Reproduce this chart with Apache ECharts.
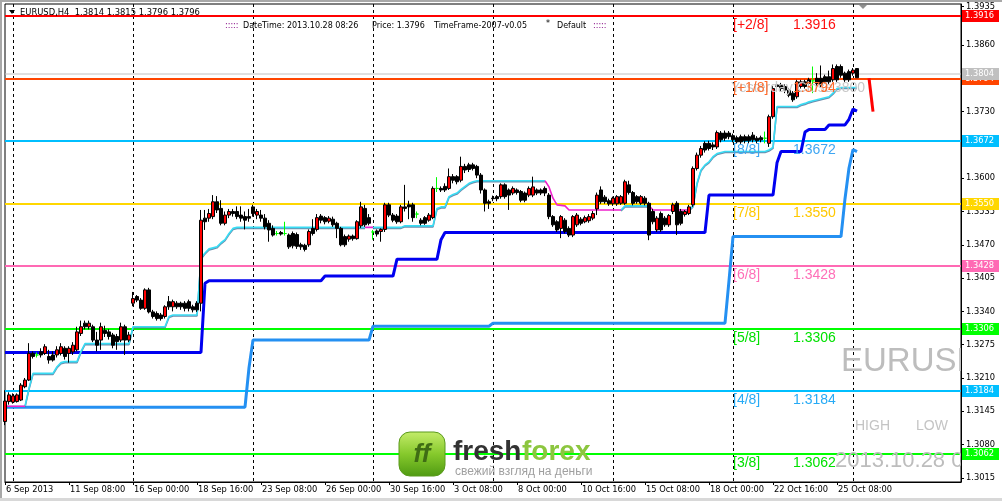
<!DOCTYPE html>
<html><head><meta charset="utf-8">
<script src="https://cdn.jsdelivr.net/npm/echarts@6/dist/echarts.min.js"></script>
<style>html,body{margin:0;padding:0;background:#fff}#c{width:1002px;height:501px}</style>
</head><body><div id="c"></div><script>
const symbolName = 'EURUSD', timeframe = 'H4';
const startTime = '2013-09-06T16:00:00Z';
const totalSlots = 240;
const headerDateTime = '2013.10.28 08:26';
const indicatorName = 'TimeFrame-2007-v0.05';
const templateName = 'Default';
const yMin = 1.3007, yMax = 1.3940;
const yTicks = [1.3015,1.3080,1.3145,1.3210,1.3275,1.3340,1.3405,1.3470,1.3535,1.3600,1.3665,1.3730,1.3795,1.3860,1.3935];
// [open, close, low, high]
const candles = [
[1.3125,1.3165,1.3118,1.3186],[1.3164,1.3177,1.3158,1.3182],[1.3163,1.3175,1.3160,1.3180],[1.3164,1.3177,1.3162,1.3180],
[1.3167,1.3196,1.3165,1.3200],[1.3193,1.3206,1.3190,1.3210],[1.3206,1.3258,1.3204,1.3278],[1.3258,1.3252,1.3248,1.3262],
[1.3255,1.3255,1.3250,1.3260],[1.3261,1.3255,1.3250,1.3268],[1.3258,1.3271,1.3255,1.3276],[1.3252,1.3245,1.3238,1.3265],
[1.3255,1.3245,1.3242,1.3262],[1.3255,1.3265,1.3250,1.3272],[1.3258,1.3271,1.3254,1.3278],[1.3268,1.3252,1.3246,1.3272],
[1.3258,1.3268,1.3240,1.3272],[1.3261,1.3274,1.3255,1.3280],[1.3265,1.3300,1.3262,1.3310],[1.3297,1.3310,1.3292,1.3322],
[1.3317,1.3310,1.3305,1.3322],[1.3310,1.3317,1.3305,1.3322],[1.3310,1.3284,1.3280,1.3314],[1.3284,1.3274,1.3262,1.3300],
[1.3284,1.3310,1.3265,1.3318],[1.3303,1.3297,1.3290,1.3312],[1.3300,1.3291,1.3285,1.3305],[1.3294,1.3274,1.3268,1.3298],
[1.3291,1.3281,1.3265,1.3296],[1.3284,1.3310,1.3280,1.3318],[1.3310,1.3284,1.3255,1.3314],[1.3284,1.3294,1.3280,1.3300],
[1.3356,1.3365,1.3350,1.3378],[1.3369,1.3362,1.3358,1.3372],[1.3362,1.3346,1.3343,1.3366],[1.3346,1.3382,1.3343,1.3385],
[1.3382,1.3339,1.3336,1.3386],[1.3339,1.3330,1.3326,1.3343],[1.3336,1.3326,1.3322,1.3340],[1.3333,1.3326,1.3322,1.3337],
[1.3330,1.3349,1.3326,1.3352],[1.3359,1.3349,1.3343,1.3370],[1.3349,1.3359,1.3340,1.3363],[1.3356,1.3349,1.3345,1.3360],
[1.3356,1.3349,1.3343,1.3359],[1.3356,1.3346,1.3340,1.3360],[1.3359,1.3346,1.3340,1.3363],[1.3349,1.3343,1.3338,1.3353],
[1.3356,1.3343,1.3339,1.3360],[1.3356,1.3518,1.3340,1.3538],[1.3522,1.3515,1.3499,1.3538],[1.3522,1.3531,1.3515,1.3540],
[1.3525,1.3554,1.3520,1.3567],[1.3554,1.3538,1.3532,1.3565],[1.3541,1.3512,1.3508,1.3557],[1.3512,1.3528,1.3508,1.3535],
[1.3528,1.3535,1.3522,1.3540],[1.3535,1.3531,1.3525,1.3540],[1.3535,1.3525,1.3520,1.3545],[1.3528,1.3522,1.3515,1.3545],
[1.3525,1.3518,1.3500,1.3535],[1.3525,1.3522,1.3515,1.3540],[1.3544,1.3531,1.3525,1.3548],[1.3528,1.3535,1.3520,1.3540],
[1.3528,1.3522,1.3515,1.3538],[1.3522,1.3505,1.3500,1.3530],[1.3512,1.3499,1.3476,1.3518],[1.3502,1.3489,1.3486,1.3508],
[1.3492,1.3492,1.3488,1.3497],[1.3494,1.3491,1.3488,1.3497],[1.3492,1.3492,1.3488,1.3515],[1.3489,1.3466,1.3462,1.3492],
[1.3492,1.3468,1.3463,1.3496],[1.3490,1.3467,1.3462,1.3494],[1.3470,1.3466,1.3460,1.3474],[1.3469,1.3461,1.3457,1.3472],
[1.3470,1.3496,1.3466,1.3500],[1.3502,1.3492,1.3488,1.3520],[1.3500,1.3523,1.3496,1.3530],[1.3526,1.3518,1.3512,1.3530],
[1.3523,1.3515,1.3510,1.3526],[1.3516,1.3522,1.3512,1.3526],[1.3520,1.3509,1.3505,1.3525],[1.3512,1.3502,1.3483,1.3515],
[1.3502,1.3470,1.3467,1.3505],[1.3486,1.3470,1.3466,1.3490],[1.3481,1.3487,1.3476,1.3490],[1.3487,1.3482,1.3478,1.3490],
[1.3482,1.3515,1.3480,1.3518],[1.3507,1.3544,1.3503,1.3554],[1.3541,1.3509,1.3505,1.3548],[1.3523,1.3512,1.3508,1.3530],
[1.3495,1.3495,1.3480,1.3499],[1.3497,1.3491,1.3486,1.3500],[1.3496,1.3500,1.3476,1.3502],[1.3500,1.3548,1.3495,1.3552],
[1.3548,1.3528,1.3524,1.3552],[1.3528,1.3518,1.3514,1.3532],[1.3526,1.3515,1.3511,1.3530],[1.3515,1.3544,1.3512,1.3548],
[1.3544,1.3541,1.3535,1.3587],[1.3548,1.3544,1.3520,1.3556],[1.3548,1.3523,1.3515,1.3552],[1.3530,1.3530,1.3522,1.3535],
[1.3518,1.3512,1.3508,1.3522],[1.3523,1.3512,1.3509,1.3526],[1.3518,1.3528,1.3515,1.3532],[1.3523,1.3580,1.3520,1.3584],
[1.3580,1.3580,1.3573,1.3602],[1.3580,1.3577,1.3573,1.3584],[1.3584,1.3577,1.3573,1.3590],[1.3580,1.3603,1.3577,1.3619],
[1.3603,1.3596,1.3590,1.3608],[1.3603,1.3593,1.3588,1.3606],[1.3596,1.3623,1.3592,1.3642],[1.3623,1.3616,1.3610,1.3628],
[1.3626,1.3617,1.3612,1.3630],[1.3626,1.3619,1.3615,1.3630],[1.3623,1.3606,1.3600,1.3626],[1.3606,1.3577,1.3570,1.3610],
[1.3577,1.3551,1.3535,1.3580],[1.3554,1.3551,1.3540,1.3558],[1.3561,1.3560,1.3555,1.3566],[1.3564,1.3560,1.3555,1.3567],
[1.3564,1.3587,1.3560,1.3590],[1.3587,1.3564,1.3560,1.3590],[1.3577,1.3567,1.3538,1.3580],[1.3571,1.3580,1.3567,1.3584],
[1.3577,1.3572,1.3568,1.3580],[1.3574,1.3557,1.3553,1.3577],[1.3571,1.3557,1.3553,1.3574],[1.3567,1.3580,1.3563,1.3584],
[1.3567,1.3583,1.3563,1.3603],[1.3577,1.3571,1.3567,1.3580],[1.3577,1.3571,1.3567,1.3580],[1.3580,1.3571,1.3565,1.3584],
[1.3567,1.3525,1.3520,1.3571],[1.3525,1.3509,1.3505,1.3528],[1.3515,1.3499,1.3495,1.3518],[1.3502,1.3525,1.3483,1.3528],
[1.3518,1.3496,1.3492,1.3522],[1.3502,1.3489,1.3485,1.3506],[1.3489,1.3525,1.3485,1.3528],[1.3509,1.3528,1.3505,1.3532],
[1.3520,1.3512,1.3508,1.3524],[1.3515,1.3523,1.3512,1.3527],[1.3517,1.3525,1.3513,1.3530],[1.3522,1.3531,1.3518,1.3536],
[1.3540,1.3567,1.3528,1.3572],[1.3577,1.3554,1.3550,1.3584],[1.3563,1.3554,1.3550,1.3567],[1.3556,1.3550,1.3546,1.3560],
[1.3550,1.3561,1.3546,1.3564],[1.3550,1.3564,1.3546,1.3567],[1.3551,1.3564,1.3548,1.3567],[1.3551,1.3593,1.3548,1.3597],
[1.3587,1.3572,1.3568,1.3595],[1.3572,1.3551,1.3547,1.3575],[1.3564,1.3554,1.3550,1.3567],[1.3551,1.3564,1.3548,1.3567],
[1.3561,1.3551,1.3547,1.3565],[1.3551,1.3489,1.3479,1.3554],[1.3535,1.3515,1.3510,1.3540],[1.3499,1.3522,1.3495,1.3526],
[1.3531,1.3499,1.3495,1.3535],[1.3522,1.3509,1.3505,1.3526],[1.3509,1.3527,1.3505,1.3530],[1.3535,1.3548,1.3530,1.3552],
[1.3551,1.3509,1.3489,1.3555],[1.3535,1.3512,1.3508,1.3540],[1.3529,1.3535,1.3525,1.3538],[1.3531,1.3544,1.3528,1.3548],
[1.3548,1.3619,1.3544,1.3623],[1.3619,1.3645,1.3615,1.3650],[1.3645,1.3658,1.3640,1.3663],[1.3668,1.3655,1.3650,1.3672],
[1.3668,1.3658,1.3654,1.3673],[1.3665,1.3661,1.3655,1.3670],[1.3661,1.3689,1.3657,1.3693],[1.3688,1.3675,1.3670,1.3692],
[1.3688,1.3678,1.3673,1.3693],[1.3688,1.3681,1.3676,1.3692],[1.3683,1.3675,1.3670,1.3687],[1.3679,1.3671,1.3667,1.3683],
[1.3681,1.3671,1.3667,1.3685],[1.3681,1.3673,1.3668,1.3685],[1.3681,1.3673,1.3668,1.3685],[1.3684,1.3675,1.3670,1.3690],
[1.3678,1.3673,1.3668,1.3682],[1.3679,1.3675,1.3670,1.3683],[1.3678,1.3678,1.3668,1.3691],[1.3668,1.3720,1.3661,1.3724],
[1.3720,1.3775,1.3716,1.3780],[1.3782,1.3779,1.3772,1.3786],[1.3782,1.3775,1.3770,1.3786],[1.3779,1.3772,1.3766,1.3783],
[1.3772,1.3762,1.3758,1.3776],[1.3766,1.3753,1.3749,1.3770],[1.3759,1.3788,1.3755,1.3792],[1.3779,1.3788,1.3775,1.3792],
[1.3788,1.3779,1.3775,1.3792],[1.3792,1.3785,1.3780,1.3796],[1.3790,1.3790,1.3766,1.3818],[1.3795,1.3785,1.3780,1.3805],
[1.3795,1.3782,1.3778,1.3820],[1.3798,1.3788,1.3784,1.3802],[1.3798,1.3788,1.3784,1.3810],[1.3792,1.3814,1.3788,1.3822],
[1.3818,1.3792,1.3788,1.3822],[1.3818,1.3801,1.3796,1.3822],[1.3805,1.3792,1.3788,1.3808],[1.3808,1.3792,1.3788,1.3812],
[1.3805,1.3811,1.3800,1.3815],[1.3814,1.3796,1.3796,1.3815]
];
const blueLine = [
1.3260,1.3260,1.3260,1.3260,1.3260,1.3260,1.3260,1.3260,1.3260,1.3260,
1.3260,1.3260,1.3260,1.3260,1.3260,1.3260,1.3260,1.3260,1.3260,1.3260,
1.3260,1.3260,1.3260,1.3260,1.3260,1.3260,1.3260,1.3260,1.3260,1.3260,
1.3260,1.3260,1.3260,1.3260,1.3260,1.3260,1.3260,1.3260,1.3260,1.3260,
1.3260,1.3260,1.3260,1.3260,1.3260,1.3260,1.3260,1.3260,1.3260,1.3260,
1.3395,
1.3400,1.3400,1.3400,1.3400,1.3400,1.3400,1.3400,1.3400,1.3400,1.3400,
1.3400,1.3400,1.3400,1.3400,1.3400,1.3400,1.3400,1.3400,1.3400,1.3400,
1.3400,1.3400,1.3400,1.3400,1.3400,1.3400,1.3400,1.3400,1.3400,
1.3409,1.3409,1.3409,1.3409,1.3409,1.3409,1.3409,1.3409,1.3409,1.3409,
1.3409,1.3409,1.3409,1.3409,1.3409,1.3409,1.3409,1.3409,
1.3442,1.3442,1.3442,1.3442,1.3442,1.3442,1.3442,1.3442,1.3442,1.3442,1.3442,
1.3480,
1.3494,1.3494,1.3494,1.3494,1.3494,1.3494,1.3494,1.3494,1.3494,1.3494,
1.3494,1.3494,1.3494,1.3494,1.3494,1.3494,1.3494,1.3494,1.3494,1.3494,
1.3494,1.3494,1.3494,1.3494,1.3494,1.3494,1.3494,1.3494,1.3494,1.3494,
1.3494,1.3494,1.3494,1.3494,1.3494,1.3494,1.3494,1.3494,1.3494,1.3494,
1.3494,1.3494,1.3494,1.3494,1.3494,1.3494,1.3494,1.3494,1.3494,1.3494,
1.3494,1.3494,1.3494,1.3494,1.3494,1.3494,1.3494,1.3494,1.3494,1.3494,
1.3494,1.3494,1.3494,1.3494,1.3494,1.3494,
1.3567,1.3567,1.3567,1.3567,1.3567,1.3567,1.3567,1.3567,1.3567,1.3567,
1.3567,1.3567,1.3567,1.3567,1.3567,1.3567,1.3567,
1.3630,
1.3652,1.3652,1.3652,1.3652,1.3652,1.3652,
1.3690,
1.3695,1.3695,1.3695,1.3695,1.3695,
1.3704,1.3704,1.3704,1.3704,1.3704,
1.3715,1.3735,1.3731
];
const lightBlueLine = [
1.3153,1.3153,1.3153,1.3153,1.3153,1.3153,1.3153,1.3153,1.3153,1.3153,
1.3153,1.3153,1.3153,1.3153,1.3153,1.3153,1.3153,1.3153,1.3153,1.3153,
1.3153,1.3153,1.3153,1.3153,1.3153,1.3153,1.3153,1.3153,1.3153,1.3153,
1.3153,1.3153,1.3153,1.3153,1.3153,1.3153,1.3153,1.3153,1.3153,1.3153,
1.3153,1.3153,1.3153,1.3153,1.3153,1.3153,1.3153,1.3153,1.3153,1.3153,
1.3153,1.3153,1.3153,1.3153,1.3153,1.3153,1.3153,1.3153,1.3153,1.3153,1.3153,
1.3230,
1.3284,1.3284,1.3284,1.3284,1.3284,1.3284,1.3284,1.3284,1.3284,1.3284,
1.3284,1.3284,1.3284,1.3284,1.3284,1.3284,1.3284,1.3284,1.3284,1.3284,
1.3284,1.3284,1.3284,1.3284,1.3284,1.3284,1.3284,1.3284,1.3284,1.3284,
1.3311,1.3311,1.3311,1.3311,1.3311,1.3311,1.3311,1.3311,1.3311,1.3311,
1.3311,1.3311,1.3311,1.3311,1.3311,1.3311,1.3311,1.3311,1.3311,1.3311,
1.3311,1.3311,1.3311,1.3311,1.3311,1.3311,1.3311,1.3311,1.3311,1.3311,
1.3317,1.3317,1.3317,1.3317,1.3317,1.3317,1.3317,1.3317,1.3317,1.3317,
1.3317,1.3317,1.3317,1.3317,1.3317,1.3317,1.3317,1.3317,1.3317,1.3317,
1.3317,1.3317,1.3317,1.3317,1.3317,1.3317,1.3317,1.3317,1.3317,1.3317,
1.3317,1.3317,1.3317,1.3317,1.3317,1.3317,1.3317,1.3317,1.3317,1.3317,
1.3317,1.3317,1.3317,1.3317,1.3317,1.3317,1.3317,1.3317,1.3317,1.3317,
1.3317,1.3317,1.3317,1.3317,1.3317,1.3317,1.3317,1.3317,1.3317,
1.3400,
1.3486,1.3486,1.3486,1.3486,1.3486,1.3486,1.3486,1.3486,1.3486,1.3486,
1.3486,1.3486,1.3486,1.3486,1.3486,1.3486,1.3486,1.3486,1.3486,1.3486,
1.3486,1.3486,1.3486,1.3486,1.3486,1.3486,1.3486,1.3486,
1.3560,1.3620,1.3656,1.3652
];
const trail = [
1.3155,1.3155,1.3155,1.3155,1.3155,1.3155,1.3190,
1.3219,1.3219,1.3219,1.3219,1.3219,1.3219,1.3232,1.3240,
1.3242,1.3242,1.3242,1.3242,1.3262,
1.3277,1.3277,1.3277,1.3277,1.3277,1.3277,1.3277,1.3277,1.3277,1.3277,1.3277,1.3277,
1.3310,1.3310,1.3310,1.3310,1.3310,1.3310,1.3310,1.3310,1.3310,1.3330,
1.3333,1.3333,1.3333,1.3333,1.3333,1.3333,1.3333,
1.3444,1.3454,1.3462,1.3464,1.3466,1.3474,1.3480,1.3492,1.3502,
1.3504,1.3504,1.3504,1.3504,1.3504,1.3504,1.3504,1.3504,1.3504,1.3504,
1.3504,1.3504,1.3504,1.3504,1.3504,1.3504,1.3504,1.3504,1.3504,1.3504,
1.3504,1.3504,1.3504,1.3504,1.3504,1.3504,1.3504,1.3504,1.3504,1.3504,
1.3504,1.3504,1.3504,1.3504,1.3504,1.3504,1.3504,1.3504,1.3504,1.3504,
1.3504,1.3504,
1.3507,1.3507,1.3507,1.3507,1.3507,1.3507,1.3507,1.3507,
1.3541,1.3544,1.3544,1.3564,1.3568,1.3571,1.3578,1.3584,1.3590,1.3593,
1.3595,1.3595,1.3595,1.3595,1.3595,1.3595,1.3595,1.3595,1.3595,1.3595,
1.3595,1.3595,1.3595,1.3595,1.3595,1.3595,1.3595,1.3595,
1.3583,1.3561,1.3548,1.3547,1.3546,
1.3538,1.3538,1.3538,1.3538,1.3538,1.3538,1.3538,1.3538,1.3538,1.3538,1.3538,1.3538,1.3538,1.3538,
1.3546,1.3546,1.3546,1.3546,1.3546,1.3546,1.3546,
1.3538,1.3538,1.3538,1.3538,1.3538,1.3538,1.3538,1.3538,1.3538,1.3538,
1.3546,1.3590,1.3616,1.3626,1.3632,1.3642,1.3648,1.3650,
1.3652,1.3652,1.3652,1.3652,1.3652,1.3652,1.3652,1.3652,1.3652,1.3652,1.3652,
1.3655,1.3660,
1.3740,1.3740,1.3740,1.3740,1.3740,1.3740,
1.3744,1.3746,1.3749,1.3751,1.3753,1.3755,1.3757,1.3759,1.3766,1.3775,
1.3777,1.3777,1.3777,1.3777,1.3777
];
const trailDownRanges = [[0,5],[90,92],[135,154],[161,171]];
const projection = [1.3795, 1.3730];
const projectionStart = 216;
const levelValues = [1.3916, 1.3794, 1.3672, 1.3550, 1.3428, 1.3306, 1.3184, 1.3062];
const levelNames = ['[+2/8]', '[+1/8]', '[8/8]', '[7/8]', '[6/8]', '[5/8]', '[4/8]', '[3/8]'];
const askPrice = 1.3804;
const yesterdayClose = 1.3800;
const logoTitle = ['fresh', 'forex'];
const logoSlogan = 'свежий взгляд на деньги';

// ---- styles ----
const levelLineColors = ['#ff0000', '#ff4500', '#00bfff', '#ffd700', '#ff69b4', '#00ff00', '#00bfff', '#00ff00'];
const levelTextColors = ['#ff1010', '#ff6a2a', '#3fa6f2', '#ffc800', '#ff6fb8', '#00e000', '#26aaf5', '#00e000'];
const months = ['Jan','Feb','Mar','Apr','May','Jun','Jul','Aug','Sep','Oct','Nov','Dec'];
const FONT = 'DejaVu Sans';

const times = [];
{ let t = new Date(startTime).getTime();
  while (times.length < totalSlots) { const d = new Date(t); const wd = d.getUTCDay(); if (wd !== 0 && wd !== 6) times.push(d); t += 4 * 3600e3; } }
const pad = n => (n < 10 ? '0' : '') + n;
const cats = times.map(d => d.getUTCFullYear() + '-' + pad(d.getUTCMonth() + 1) + '-' + pad(d.getUTCDate()) + ' ' + pad(d.getUTCHours()) + ':00');
const labelOf = i => { const d = times[i]; return i === 0 ? d.getUTCDate() + ' ' + months[d.getUTCMonth()] + ' ' + d.getUTCFullYear() : d.getUTCDate() + ' ' + months[d.getUTCMonth()] + ' ' + pad(d.getUTCHours()) + ':' + pad(d.getUTCMinutes()); };
const isLabel = i => i % 16 === 0 && i < candles.length;
const isWeekStart = i => times[i] && times[i].getUTCDay() === 1 && times[i].getUTCHours() === 0;

const inDown = (i, strict) => trailDownRanges.some(r => strict ? (i > r[0] && i < r[1]) : (i >= r[0] && i <= r[1]));
const trailUp = trail.map((v, i) => inDown(i, true) ? null : v);
const trailDn = trail.map((v, i) => inDown(i, false) ? v : null);
const projData = cats.map((c, i) => (i >= projectionStart && i < projectionStart + projection.length) ? projection[i - projectionStart] : null);

const last = candles[candles.length - 1];
const fmt = v => v.toFixed(4);

const chart = echarts.init(document.getElementById('c'), null, { renderer: 'canvas' });

const option = {
  animation: false,
  backgroundColor: '#ffffff',
  grid: { left: 5, right: 41, top: 4, bottom: 19, show: true, borderColor: '#000', borderWidth: 1, backgroundColor: '#fff' },
  xAxis: {
    type: 'category', data: cats, boundaryGap: false,
    axisLine: { lineStyle: { color: '#000', width: 1 } },
    axisTick: { show: true, length: 3, interval: (i) => isLabel(i), lineStyle: { color: '#000' } },
    axisLabel: { interval: (i) => isLabel(i), formatter: (v, i) => labelOf(i), align: 'left', margin: 4, color: '#000', fontSize: 8.3, fontFamily: FONT, padding: [0, 0, 0, 1] },
    splitLine: { show: true, interval: (i) => isWeekStart(i), lineStyle: { color: '#000', type: [3, 3], width: 1 } }
  },
  yAxis: {
    type: 'value', position: 'right', min: yMin, max: yMax, scale: true,
    axisLine: { show: true, lineStyle: { color: '#000', width: 1 } },
    axisTick: { show: true, length: 3, customValues: yTicks, lineStyle: { color: '#000' } },
    axisLabel: { customValues: yTicks, formatter: v => fmt(v), color: '#000', fontSize: 8.3, fontFamily: FONT, margin: 5 },
    splitLine: { show: false }
  },
  series: [
    { // Murrey level lines
      type: 'custom', z: 1, silent: true,
      data: levelValues.map((v, k) => [0, v, k]).concat([[0, askPrice, -1]]),
      renderItem: (params, api) => {
        const v = api.value(1), k = api.value(2);
        const y = Math.round(api.coord([0, v])[1]);
        const cs = params.coordSys;
        return { type: 'line', shape: { x1: cs.x, y1: y, x2: cs.x + cs.width, y2: y },
          style: { stroke: k < 0 ? '#c0c0c0' : levelLineColors[k], lineWidth: k < 0 ? 1 : 2 } };
      }
    },
    { type: 'line', z: 2, data: lightBlueLine, showSymbol: false, symbol: 'none', lineStyle: { color: '#2490f2', width: 3 }, silent: true },
    { type: 'line', z: 2, data: blueLine, showSymbol: false, symbol: 'none', lineStyle: { color: '#0000f0', width: 3 }, silent: true },
    { type: 'line', z: 2, data: trailUp, showSymbol: false, symbol: 'none', connectNulls: false, lineStyle: { color: '#38dcf4', width: 1.6, shadowColor: 'rgba(70,110,150,0.8)', shadowOffsetY: 1 }, silent: true },
    { type: 'line', z: 2, data: trailDn, showSymbol: false, symbol: 'none', connectNulls: false, lineStyle: { color: '#ee22cc', width: 1.6 }, silent: true },
    { type: 'candlestick', z: 3, barWidth: 3, silent: true,
      data: candles.map(c => { const it = { value: c.slice() }; if (c[0] === c[1]) it.itemStyle = { color: '#00ff00', color0: '#00ff00', borderColor: '#00ff00', borderColor0: '#00ff00' }; return it; }),
      itemStyle: { color: '#ff0000', color0: '#000000', borderColor: '#000000', borderColor0: '#000000', borderWidth: 1 } },
    { type: 'line', z: 3, data: projData, showSymbol: false, symbol: 'none', lineStyle: { color: '#ff0000', width: 3 }, silent: true },
    { // watermark texts (clipped to plot)
      type: 'custom', z: 1, silent: true, clip: true, data: [[0, yMin]],
      renderItem: (params, api) => {
        const cs = params.coordSys; const R = cs.x + cs.width;
        return { type: 'group', children: [
          { type: 'text', style: { x: R - 120, y: 362, text: symbolName, fill: '#bdbdbd', font: '33px "Liberation Sans"', verticalAlign: 'middle' } },
          { type: 'text', style: { x: R - 106, y: 426, text: 'HIGH', fill: '#c4c4c4', font: '14px "Liberation Sans"', verticalAlign: 'middle' } },
          { type: 'text', style: { x: R - 45, y: 426, text: 'LOW', fill: '#c4c4c4', font: '14px "Liberation Sans"', verticalAlign: 'middle' } },
          { type: 'text', style: { x: R - 126, y: 461, text: headerDateTime, fill: '#bdbdbd', font: '22px "Liberation Sans"', verticalAlign: 'middle' } }
        ] };
      }
    },
    { // level texts and right-axis boxes
      type: 'custom', z: 5, silent: true, clip: false,
      data: levelValues.map((v, k) => [0, v, k]).concat([[0, askPrice, -1]]),
      renderItem: (params, api) => {
        const v = api.value(1), k = api.value(2);
        const y = Math.round(api.coord([0, v])[1]);
        const cs = params.coordSys; const R = cs.x + cs.width;
        const xa = api.coord([182, v])[0], xb = api.coord([197, v])[0];
        const ch = [];
        if (k >= 0) {
          ch.push({ type: 'text', style: { x: xa, y: y + 2, text: levelNames[k], fill: levelTextColors[k], font: '14px "Liberation Sans"', verticalAlign: 'top' } });
          ch.push({ type: 'text', style: { x: xb, y: y + 2, text: fmt(v), fill: levelTextColors[k], font: '14px "Liberation Sans"', verticalAlign: 'top' } });
        }
        ch.push({ type: 'rect', shape: { x: R + 1, y: y - 6, width: 37, height: 12 }, style: { fill: k < 0 ? '#c0c0c0' : levelLineColors[k] } });
        ch.push({ type: 'text', style: { x: R + 4, y: y, text: fmt(v), fill: '#fff', font: '8.3px "DejaVu Sans"', verticalAlign: 'middle' } });
        return { type: 'group', children: ch };
      }
    },
    { // yesterday close label
      type: 'custom', z: 4, silent: true, clip: false, data: [[0, yesterdayClose]],
      renderItem: (params, api) => {
        const v = api.value(1);
        const y = api.coord([0, levelValues[1]])[1];
        const xa = api.coord([182, v])[0];
        const xe = api.coord([215, v])[0];
        return { type: 'group', children: [
          { type: 'text', style: { x: xa - 2, y: y + 2, text: 'Yesterday Close', fill: '#c8c8c8', font: '14px "Liberation Sans"', verticalAlign: 'top' } },
          { type: 'text', style: { x: xe, y: y + 2, text: fmt(v), fill: '#c8c8c8', font: '14px "Liberation Sans"', verticalAlign: 'top', align: 'right' } }
        ] };
      }
    }
  ],
  graphic: [
    { type: 'rect', shape: { x: 0, y: 0, width: 1002, height: 2 }, style: { fill: '#a8a8a8' }, z: 10, silent: true },
    { type: 'rect', shape: { x: 0, y: 0, width: 2, height: 501 }, style: { fill: '#a8a8a8' }, z: 10, silent: true },
    { type: 'rect', shape: { x: 0, y: 498, width: 1002, height: 3 }, style: { fill: '#d8d8d8' }, z: 10, silent: true },
    { type: 'polygon', shape: { points: [[9, 10], [15, 10], [12, 14]] }, style: { fill: '#000' }, z: 10, silent: true },
    { type: 'text', style: { x: 20, y: 12.5, text: symbolName + ',' + timeframe + '  ' + [last[0], last[3], last[2], last[1]].map(fmt).join(' '), fill: '#000', font: '8.4px "DejaVu Sans"', verticalAlign: 'middle' }, z: 10, silent: true },
    { type: 'polygon', shape: { points: [[859, 5], [867, 5], [863, 9]] }, style: { fill: '#909090' }, z: 10, silent: true },
    { type: 'text', style: { x: 225, y: 25.5, text: ':::::', fill: '#800080', font: '8px "DejaVu Sans"', verticalAlign: 'middle' }, z: 10, silent: true },
    { type: 'text', style: { x: 243, y: 25.5, text: 'DateTime: ' + headerDateTime, fill: '#000', font: '8px "DejaVu Sans"', verticalAlign: 'middle' }, z: 10, silent: true },
    { type: 'text', style: { x: 372, y: 25.5, text: 'Price: ' + fmt(last[1]), fill: '#000', font: '8px "DejaVu Sans"', verticalAlign: 'middle' }, z: 10, silent: true },
    { type: 'text', style: { x: 434, y: 25.5, text: indicatorName, fill: '#000', font: '8px "DejaVu Sans"', verticalAlign: 'middle' }, z: 10, silent: true },
    { type: 'text', style: { x: 546, y: 24, text: '*', fill: '#000', font: '8px "DejaVu Sans"', verticalAlign: 'middle' }, z: 10, silent: true },
    { type: 'text', style: { x: 557, y: 25.5, text: templateName, fill: '#000', font: '8px "DejaVu Sans"', verticalAlign: 'middle' }, z: 10, silent: true },
    { type: 'text', style: { x: 593, y: 25.5, text: ':::::', fill: '#800080', font: '8px "DejaVu Sans"', verticalAlign: 'middle' }, z: 10, silent: true },
    // logo
    { type: 'rect', shape: { x: 399, y: 432, width: 46, height: 44, r: 11 }, z: 10, silent: true,
      style: { fill: new echarts.graphic.LinearGradient(0, 0, 0, 1, [{ offset: 0, color: '#c4ec6a' }, { offset: 0.5, color: '#86c92c' }, { offset: 1, color: '#4f9a12' }]), stroke: '#5a9a1c', lineWidth: 1 } },
    { type: 'text', style: { x: 422, y: 455, text: 'ff', fill: '#3f6d14', font: 'italic bold 26px "Liberation Sans"', align: 'center', verticalAlign: 'middle' }, z: 11, silent: true },
    { type: 'text', style: { x: 453, y: 452, text: logoTitle[0], fill: '#333333', font: 'bold 28px "Liberation Sans"', verticalAlign: 'middle' }, z: 10, silent: true },
    { type: 'text', style: { x: 522, y: 452, text: logoTitle[1], fill: '#8cc63f', font: 'bold 28px "Liberation Sans"', verticalAlign: 'middle' }, z: 10, silent: true },
    { type: 'text', style: { x: 455, y: 472, text: logoSlogan, fill: '#a0a0a0', font: '12px "Liberation Sans"', verticalAlign: 'middle' }, z: 10, silent: true }
  ]
};
chart.setOption(option);
</script></body></html>
